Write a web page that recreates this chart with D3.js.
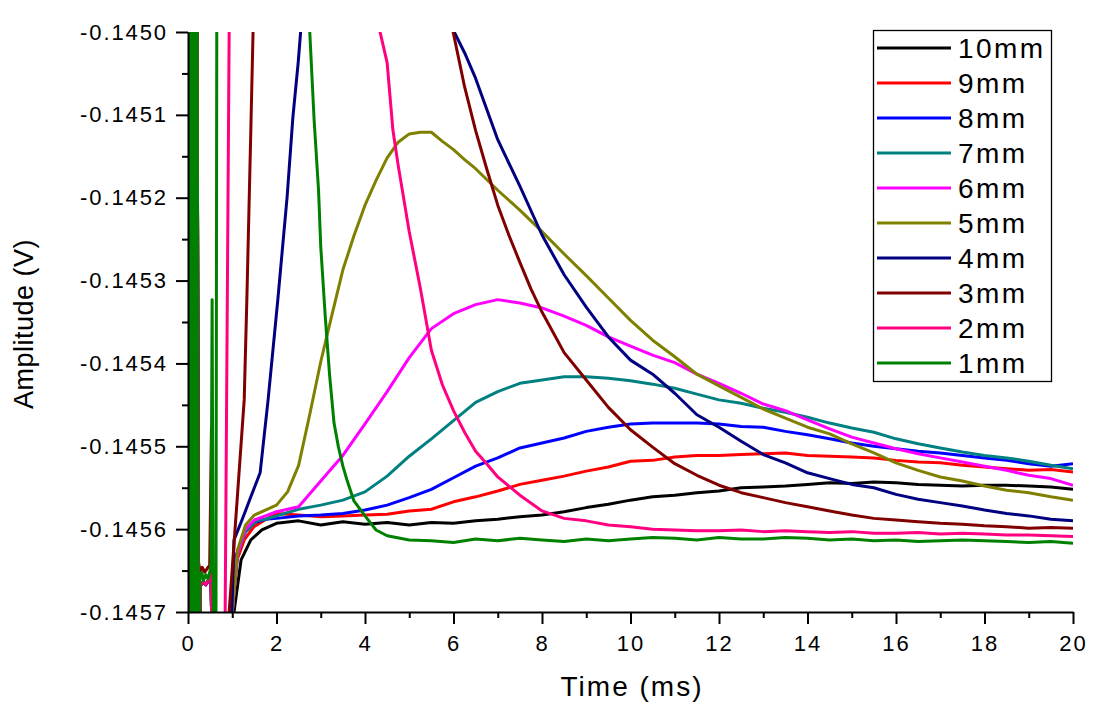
<!DOCTYPE html>
<html>
<head>
<meta charset="utf-8">
<script src="https://cdn.jsdelivr.net/npm/d3@7"></script>
<style>
  html, body { margin: 0; padding: 0; background: #ffffff; }
  svg { display: block; }
</style>
</head>
<body>
<div id="chart"></div>
<script>
// ---------------- data ----------------
const categories = ["10mm", "9mm", "8mm", "7mm", "6mm", "5mm", "4mm", "3mm", "2mm", "1mm"];
const seriesColors = ["#000000", "#ff0000", "#0000ff", "#008080", "#ff00ff", "#808000", "#000080", "#800000", "#ff0080", "#008000"];

const xTicks = [0, 2, 4, 6, 8, 10, 12, 14, 16, 18, 20];
const xMinorTicks = [1, 3, 5, 7, 9, 11, 13, 15, 17, 19];
const yTicks = [-0.1450, -0.1451, -0.1452, -0.1453, -0.1454, -0.1455, -0.1456, -0.1457];
const yMinorTicks = [-0.14505, -0.14515, -0.14525, -0.14535, -0.14545, -0.14555, -0.14565];

// time (ms) and amplitude (V) for each trace
const t10 = [0,0.04,0.08,0.12,0.16,0.2,0.24,0.28,0.34,0.4,0.46,0.52,0.56,0.95,1.04,1.2,1.42,1.67,2,2.5,3,3.5,4,4.5,5,5.5,6,6.5,7,7.5,8,8.5,9,9.5,10,10.5,11,11.5,12,12.5,13,13.5,14,14.5,15,15.5,16,16.5,17,17.5,18,18.5,19,19.5,20];
const v10 = [-0.145660,-0.144800,-0.145900,-0.144800,-0.145900,-0.144800,-0.145900,-0.145668,-0.145664,-0.145667,-0.145662,-0.145655,-0.145800,-0.145800,-0.145700,-0.145637,-0.145613,-0.145601,-0.145593,-0.145590,-0.145595,-0.145591,-0.145594,-0.145592,-0.145595,-0.145592,-0.145593,-0.145590,-0.145588,-0.145585,-0.145583,-0.145579,-0.145574,-0.145570,-0.145565,-0.145561,-0.145559,-0.145556,-0.145554,-0.145550,-0.145549,-0.145548,-0.145546,-0.145544,-0.145545,-0.145543,-0.145544,-0.145546,-0.145547,-0.145548,-0.145547,-0.145547,-0.145548,-0.145549,-0.145552];

const t9 = [0,0.04,0.08,0.12,0.16,0.2,0.24,0.28,0.34,0.4,0.46,0.52,0.56,0.95,1.0,1.11,1.27,1.49,1.74,2,2.5,3,3.5,4,4.5,5,5.5,6,6.5,7,7.5,8,8.5,9,9.5,10,10.5,11,11.5,12,12.5,13,13.5,14,14.5,15,15.5,16,16.5,17,17.5,18,18.5,19,19.5,20];
const v9 = [-0.145660,-0.144800,-0.145900,-0.144800,-0.145900,-0.144800,-0.145900,-0.145668,-0.145664,-0.145667,-0.145662,-0.145655,-0.145800,-0.145800,-0.145700,-0.145637,-0.145613,-0.145597,-0.145589,-0.145581,-0.145583,-0.145585,-0.145584,-0.145583,-0.145582,-0.145578,-0.145576,-0.145567,-0.145561,-0.145554,-0.145546,-0.145541,-0.145536,-0.145530,-0.145525,-0.145518,-0.145517,-0.145513,-0.145511,-0.145511,-0.145510,-0.145509,-0.145508,-0.145511,-0.145512,-0.145513,-0.145514,-0.145517,-0.145519,-0.145520,-0.145523,-0.145525,-0.145527,-0.145529,-0.145528,-0.145531];

const t8 = [0,0.04,0.08,0.12,0.16,0.2,0.24,0.28,0.34,0.4,0.46,0.52,0.56,0.95,0.99,1.1,1.27,1.5,1.75,2,2.5,3,3.5,4,4.5,5,5.5,6,6.5,7,7.5,8,8.5,9,9.5,10,10.5,11,11.5,12,12.5,13,13.5,14,14.5,15,15.5,16,16.5,17,17.5,18,18.5,19,19.5,20];
const v8 = [-0.145660,-0.144800,-0.145900,-0.144800,-0.145900,-0.144800,-0.145900,-0.145668,-0.145664,-0.145667,-0.145662,-0.145655,-0.145800,-0.145800,-0.145700,-0.145630,-0.145605,-0.145592,-0.145588,-0.145587,-0.145584,-0.145583,-0.145581,-0.145577,-0.145571,-0.145562,-0.145552,-0.145538,-0.145524,-0.145514,-0.145502,-0.145496,-0.145490,-0.145482,-0.145477,-0.145473,-0.145472,-0.145472,-0.145472,-0.145473,-0.145476,-0.145477,-0.145482,-0.145486,-0.145491,-0.145496,-0.145500,-0.145503,-0.145506,-0.145508,-0.145511,-0.145514,-0.145517,-0.145521,-0.145524,-0.145521];

const t7 = [0,0.04,0.08,0.12,0.16,0.2,0.24,0.28,0.34,0.4,0.46,0.52,0.56,0.95,1.0,1.12,1.3,1.55,1.75,2,2.5,3,3.5,4,4.5,5,5.5,6,6.5,7,7.5,8,8.5,9,9.5,10,10.5,11,11.5,12,12.5,13,13.5,14,14.5,15,15.5,16,16.5,17,17.5,18,18.5,19,19.5,20];
const v7 = [-0.145660,-0.144800,-0.145900,-0.144800,-0.145900,-0.144800,-0.145900,-0.145668,-0.145664,-0.145667,-0.145662,-0.145655,-0.145800,-0.145800,-0.145700,-0.145630,-0.145603,-0.145590,-0.145588,-0.145584,-0.145576,-0.145571,-0.145565,-0.145555,-0.145536,-0.145512,-0.145491,-0.145469,-0.145447,-0.145434,-0.145424,-0.145420,-0.145416,-0.145416,-0.145418,-0.145421,-0.145425,-0.145430,-0.145437,-0.145444,-0.145448,-0.145454,-0.145459,-0.145465,-0.145472,-0.145478,-0.145483,-0.145491,-0.145497,-0.145502,-0.145507,-0.145511,-0.145514,-0.145518,-0.145523,-0.145527];

const t6 = [0,0.04,0.08,0.12,0.16,0.2,0.24,0.28,0.34,0.4,0.46,0.52,0.56,0.95,1.0,1.12,1.3,1.5,1.75,2,2.5,3,3.5,4,4.5,5,5.5,6,6.5,7,7.5,8,8.5,9,9.5,10,10.5,11,11.5,12,12.5,13,13.5,14,14.5,15,15.5,16,16.5,17,17.5,18,18.5,19,19.5,20];
const v6 = [-0.145660,-0.144800,-0.145900,-0.144800,-0.145900,-0.144800,-0.145900,-0.145668,-0.145664,-0.145667,-0.145662,-0.145655,-0.145800,-0.145800,-0.145700,-0.145630,-0.145600,-0.145589,-0.145584,-0.145579,-0.145573,-0.145542,-0.145511,-0.145473,-0.145434,-0.145393,-0.145358,-0.145340,-0.145329,-0.145323,-0.145327,-0.145333,-0.145343,-0.145354,-0.145368,-0.145379,-0.145390,-0.145399,-0.145413,-0.145424,-0.145436,-0.145449,-0.145457,-0.145468,-0.145479,-0.145489,-0.145496,-0.145503,-0.145509,-0.145514,-0.145519,-0.145524,-0.145529,-0.145535,-0.145539,-0.145547];

const t5 = [0,0.04,0.08,0.12,0.16,0.2,0.24,0.28,0.34,0.4,0.46,0.52,0.56,0.95,1.0,1.12,1.3,1.5,2,2.25,2.5,2.75,3,3.25,3.5,3.75,4,4.25,4.5,4.75,5,5.25,5.5,5.75,6,6.25,6.5,7,7.5,8,8.5,9,9.5,10,10.5,11,11.5,12,12.5,13,13.5,14,14.5,15,15.5,16,16.5,17,17.5,18,18.5,19,19.5,20];
const v5 = [-0.145660,-0.144800,-0.145900,-0.144800,-0.145900,-0.144800,-0.145900,-0.145668,-0.145664,-0.145667,-0.145662,-0.145655,-0.145800,-0.145800,-0.145700,-0.145625,-0.145595,-0.145583,-0.145571,-0.145555,-0.145523,-0.145462,-0.145398,-0.145342,-0.145287,-0.145246,-0.145209,-0.145179,-0.145152,-0.145133,-0.145123,-0.145121,-0.145121,-0.145132,-0.145142,-0.145154,-0.145165,-0.145191,-0.145215,-0.145241,-0.145268,-0.145294,-0.145321,-0.145348,-0.145372,-0.145392,-0.145413,-0.145427,-0.145441,-0.145455,-0.145466,-0.145477,-0.145485,-0.145497,-0.145508,-0.145520,-0.145529,-0.145537,-0.145542,-0.145548,-0.145553,-0.145556,-0.145561,-0.145565];

const t4 = [0,0.04,0.08,0.12,0.16,0.2,0.24,0.28,0.34,0.4,0.46,0.52,0.56,0.95,0.99,1.04,1.22,1.42,1.63,1.81,2.03,2.24,2.37,2.49,2.56,4.2,5.97,6.25,6.5,7,7.5,8,8.5,9,9.5,10,10.5,11,11.5,12,12.5,13,13.5,14,14.5,15,15.5,16,16.5,17,17.5,18,18.5,19,19.5,20];
const v4 = [-0.145660,-0.144800,-0.145900,-0.144800,-0.145900,-0.144800,-0.145900,-0.145668,-0.145664,-0.145667,-0.145662,-0.145655,-0.145800,-0.145800,-0.145700,-0.145613,-0.145589,-0.145561,-0.145532,-0.145444,-0.145323,-0.145199,-0.145103,-0.145037,-0.144990,-0.144500,-0.144995,-0.145025,-0.145056,-0.145130,-0.145186,-0.145245,-0.145293,-0.145332,-0.145368,-0.145396,-0.145413,-0.145436,-0.145462,-0.145477,-0.145494,-0.145510,-0.145520,-0.145532,-0.145539,-0.145546,-0.145550,-0.145558,-0.145564,-0.145568,-0.145572,-0.145577,-0.145581,-0.145584,-0.145588,-0.145590];

const t3 = [0,0.04,0.08,0.12,0.16,0.2,0.23,0.27,0.32,0.38,0.44,0.49,0.53,0.57,0.9,0.93,1.11,1.27,1.33,1.42,1.47,3.5,5.98,6.25,6.5,6.75,7,7.25,7.5,7.75,8,8.5,9,9.5,10,10.5,11,11.5,12,12.5,13,13.5,14,14.5,15,15.5,16,16.5,17,17.5,18,18.5,19,19.5,20];
const v3 = [-0.145660,-0.144800,-0.145900,-0.144800,-0.145900,-0.144800,-0.145637,-0.145651,-0.145646,-0.145652,-0.145647,-0.145644,-0.145478,-0.145800,-0.145800,-0.145700,-0.145565,-0.145444,-0.145323,-0.145118,-0.145000,-0.144000,-0.144997,-0.145066,-0.145119,-0.145165,-0.145209,-0.145245,-0.145278,-0.145310,-0.145338,-0.145387,-0.145420,-0.145453,-0.145480,-0.145501,-0.145521,-0.145535,-0.145547,-0.145556,-0.145562,-0.145568,-0.145573,-0.145578,-0.145583,-0.145587,-0.145589,-0.145591,-0.145593,-0.145594,-0.145596,-0.145597,-0.145599,-0.145598,-0.145599];

const t2 = [0,0.04,0.08,0.12,0.16,0.2,0.24,0.28,0.34,0.4,0.46,0.52,0.56,0.82,0.84,0.93,0.96,2.5,4.34,4.5,4.63,4.75,5,5.25,5.5,5.75,6,6.25,6.5,6.75,7,7.5,8,8.5,9,9.5,10,10.5,11,11.5,12,12.5,13,13.5,14,14.5,15,15.5,16,16.5,17,17.5,18,18.5,19,19.5,20];
const v2 = [-0.145660,-0.144800,-0.145900,-0.144800,-0.145900,-0.144800,-0.145900,-0.145668,-0.145664,-0.145667,-0.145662,-0.145655,-0.145800,-0.145800,-0.145700,-0.145000,-0.144900,-0.144000,-0.145000,-0.145037,-0.145118,-0.145161,-0.145241,-0.145309,-0.145384,-0.145426,-0.145457,-0.145483,-0.145506,-0.145521,-0.145537,-0.145559,-0.145578,-0.145587,-0.145590,-0.145595,-0.145597,-0.145600,-0.145601,-0.145602,-0.145602,-0.145601,-0.145603,-0.145602,-0.145603,-0.145604,-0.145603,-0.145605,-0.145605,-0.145604,-0.145606,-0.145605,-0.145606,-0.145607,-0.145607,-0.145608,-0.145609];

const t1 = [0,0.04,0.08,0.12,0.16,0.2,0.24,0.27,0.31,0.35,0.4,0.45,0.5,0.52,0.545,0.575,0.63,0.655,1.6,2.75,2.85,2.95,3,3.1,3.2,3.3,3.4,3.5,3.6,3.75,4,4.25,4.5,5,5.5,6,6.5,7,7.5,8,8.5,9,9.5,10,10.5,11,11.5,12,12.5,13,13.5,14,14.5,15,15.5,16,16.5,17,17.5,18,18.5,19,19.5,20];
const v1 = [-0.145660,-0.144800,-0.145900,-0.144800,-0.145900,-0.144800,-0.145900,-0.145660,-0.145652,-0.145662,-0.145655,-0.145660,-0.145650,-0.145640,-0.145323,-0.145800,-0.145800,-0.144800,-0.144200,-0.144998,-0.145106,-0.145191,-0.145259,-0.145342,-0.145414,-0.145472,-0.145501,-0.145524,-0.145542,-0.145566,-0.145584,-0.145601,-0.145608,-0.145613,-0.145614,-0.145616,-0.145612,-0.145614,-0.145611,-0.145613,-0.145615,-0.145612,-0.145614,-0.145612,-0.145610,-0.145611,-0.145613,-0.145610,-0.145612,-0.145612,-0.145610,-0.145611,-0.145613,-0.145612,-0.145614,-0.145613,-0.145615,-0.145614,-0.145613,-0.145614,-0.145615,-0.145616,-0.145615,-0.145617];

const seriesTimes = [t10, t9, t8, t7, t6, t5, t4, t3, t2, t1];
const seriesValues = [v10, v9, v8, v7, v6, v5, v4, v3, v2, v1];

// ---------------- chart ----------------
const W = 1093, H = 718;
const plot = { left: 188, right: 1073, top: 32, bottom: 612 };
const FONT = "'Liberation Sans', Arial, Helvetica, sans-serif";

const svg = d3.select("#chart").append("svg")
  .attr("width", W).attr("height", H)
  .style("background", "#ffffff");

const x = d3.scaleLinear().domain([0, 20]).range([plot.left, plot.right]);
const y = d3.scaleLinear().domain([-0.1457, -0.1450]).range([plot.bottom, plot.top]);

svg.append("defs").append("clipPath").attr("id", "plotClip")
  .append("rect")
  .attr("x", plot.left).attr("y", plot.top)
  .attr("width", plot.right - plot.left).attr("height", plot.bottom - plot.top);

const series = categories.map((name, i) => {
  const ts = seriesTimes[i], vs = seriesValues[i];
  const n = Math.min(ts.length, vs.length);
  const pts = [];
  for (let k = 0; k < n; k++) pts.push([ts[k], vs[k]]);
  return { name, color: seriesColors[i], points: pts };
});

const line = d3.line().x(d => x(d[0])).y(d => y(d[1]));

const gLines = svg.append("g").attr("clip-path", "url(#plotClip)");
gLines.selectAll("path").data(series).enter().append("path")
  .attr("d", d => line(d.points))
  .attr("fill", "none")
  .attr("stroke", d => d.color)
  .attr("stroke-width", 3)
  .attr("stroke-linejoin", "round");

// ---- axes ----
function styleAxis(g, fontSize, spacing) {
  g.attr("font-family", FONT).attr("font-size", fontSize);
  g.selectAll(".domain").attr("stroke", "#000").attr("stroke-width", 2);
  g.selectAll(".tick line").attr("stroke", "#000").attr("stroke-width", 2);
  g.selectAll(".tick text").attr("fill", "#000").style("letter-spacing", spacing + "px");
}

const yAxisMinor = svg.append("g").attr("transform", `translate(${plot.left},0)`)
  .call(d3.axisLeft(y).tickValues(yMinorTicks).tickSize(6).tickSizeOuter(0).tickFormat(""));
yAxisMinor.select(".domain").remove();
yAxisMinor.selectAll(".tick line").attr("stroke", "#000").attr("stroke-width", 2);

const xAxisMinor = svg.append("g").attr("transform", `translate(0,${plot.bottom})`)
  .call(d3.axisBottom(x).tickValues(xMinorTicks).tickSize(6).tickSizeOuter(0).tickFormat(""));
xAxisMinor.select(".domain").remove();
xAxisMinor.selectAll(".tick line").attr("stroke", "#000").attr("stroke-width", 2);

const yAxis = svg.append("g").attr("transform", `translate(${plot.left},0)`)
  .call(d3.axisLeft(y).tickValues(yTicks).tickSize(12).tickSizeOuter(0).tickPadding(8)
    .tickFormat(d => d.toFixed(4)));
styleAxis(yAxis, 22, 1.9);

const xAxis = svg.append("g").attr("transform", `translate(0,${plot.bottom})`)
  .call(d3.axisBottom(x).tickValues(xTicks).tickSize(12).tickSizeOuter(0).tickPadding(11)
    .tickFormat(d => String(d)));
styleAxis(xAxis, 22, 1.9);

// ---- axis titles ----
svg.append("text")
  .attr("x", 632).attr("y", 696)
  .attr("text-anchor", "middle")
  .attr("font-family", FONT).attr("font-size", 28)
  .style("letter-spacing", "2px")
  .attr("fill", "#000")
  .text("Time (ms)");

svg.append("text")
  .attr("transform", "translate(33,324) rotate(-90)")
  .attr("text-anchor", "middle")
  .attr("font-family", FONT).attr("font-size", 27)
  .style("letter-spacing", "0.5px")
  .attr("fill", "#000")
  .text("Amplitude (V)");

// ---- legend ----
const legend = svg.append("g");
legend.append("rect")
  .attr("x", 873.5).attr("y", 30.5)
  .attr("width", 178).attr("height", 351)
  .attr("fill", "#ffffff").attr("stroke", "#000").attr("stroke-width", 1.3);

const rows = legend.selectAll("g.row").data(series).enter().append("g")
  .attr("class", "row")
  .attr("transform", (d, i) => `translate(0,${48 + i * 35})`);
rows.append("line")
  .attr("x1", 877).attr("x2", 951).attr("y1", 0).attr("y2", 0)
  .attr("stroke", d => d.color).attr("stroke-width", 3);
rows.append("text")
  .attr("x", 958).attr("y", 10)
  .attr("font-family", FONT).attr("font-size", 28)
  .style("letter-spacing", "2.4px")
  .attr("fill", "#000")
  .text(d => d.name);
</script>
</body>
</html>
